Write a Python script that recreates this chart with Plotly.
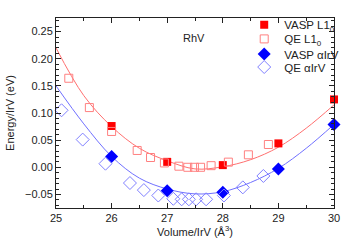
import plotly.graph_objects as go

# VASP L1_0 (filled red squares)
vasp_l10_x = [26, 27, 28, 29, 30]
vasp_l10_y = [0.076, 0.010, 0.004, 0.044, 0.125]

# QE L1_0 (open light-red squares)
qe_l10_x = [25.23, 25.60, 26.00, 26.46, 26.70, 26.95, 27.21, 27.37, 27.49, 27.60, 27.79, 28.10, 28.46, 28.82]
qe_l10_y = [0.164, 0.110, 0.066, 0.031, 0.018, 0.008, 0.002, 0.000, 0.000, 0.000, 0.003, 0.0095, 0.023, 0.042]

# VASP alpha-IrV (filled blue diamonds)
vasp_a_x = [26, 27, 28, 29, 30]
vasp_a_y = [0.020, -0.043, -0.046, -0.003, 0.079]

# QE alpha-IrV (open light-blue diamonds)
qe_a_x = [25.10, 25.48, 25.89, 26.33, 26.58, 26.84, 27.11, 27.26, 27.39, 27.52, 27.70, 28.02, 28.36, 28.73]
qe_a_y = [0.105, 0.051, 0.0066, -0.029, -0.042, -0.052, -0.058, -0.059, -0.059, -0.059, -0.059, -0.052, -0.037, -0.016]

# fitted curves
fit_x = [25.0, 25.5, 26.0, 26.5, 27.0, 27.5, 28.0, 28.5, 29.0, 29.5, 30.0]
fit_l10_y = [0.220, 0.132, 0.075, 0.035, 0.012, -0.003, 0.001, 0.014, 0.037, 0.072, 0.115]
fit_a_y = [0.150, 0.080, 0.020, -0.020, -0.040, -0.049, -0.045, -0.028, -0.002, 0.035, 0.079]

x_ticks = [25, 26, 27, 28, 29, 30]
y_ticks = [-0.05, 0.00, 0.05, 0.10, 0.15, 0.20, 0.25]

RED = "#ff0000"
LRED = "#ff8080"
BLUE = "#0000ff"
LBLUE = "#8080ff"
FONT = "Liberation Sans, DejaVu Sans, Arial"
INK = "#222222"

fig = go.Figure()
fig.add_trace(go.Scatter(x=fit_x, y=fit_l10_y, mode="lines", line=dict(color="#ff7070", width=1, shape="spline"),
                         showlegend=False, hoverinfo="skip"))
fig.add_trace(go.Scatter(x=fit_x, y=fit_a_y, mode="lines", line=dict(color="#7070ff", width=1, shape="spline"),
                         showlegend=False, hoverinfo="skip"))
fig.add_trace(go.Scatter(x=vasp_l10_x, y=vasp_l10_y, mode="markers", name="VASP L1<sub>0</sub>", cliponaxis=False,
                         legend="legend",
                         marker=dict(symbol="square", size=8, color=RED, line=dict(width=0))))
fig.add_trace(go.Scatter(x=qe_l10_x, y=qe_l10_y, mode="markers", name="QE L1<sub>0</sub>", cliponaxis=False,
                         legend="legend2",
                         marker=dict(symbol="square-open", size=8, color=LRED, line=dict(width=1))))
fig.add_trace(go.Scatter(x=vasp_a_x, y=vasp_a_y, mode="markers", name="VASP αIrV", cliponaxis=False,
                         legend="legend3",
                         marker=dict(symbol="diamond", size=10, color=BLUE, line=dict(width=0))))
fig.add_trace(go.Scatter(x=qe_a_x, y=qe_a_y, mode="markers", name="QE αIrV", cliponaxis=False,
                         legend="legend4",
                         marker=dict(symbol="diamond-open", size=10, color=LBLUE, line=dict(width=1))))

axis_common = dict(showline=True, linecolor=INK, linewidth=1, mirror="ticks", ticks="inside",
                   tickcolor=INK, ticklen=5, tickwidth=1, showgrid=False, zeroline=False, automargin=False,
                   tickfont=dict(family=FONT, size=11, color=INK))

fig.update_xaxes(range=[25, 30], tickvals=x_ticks, ticktext=[str(v) for v in x_ticks],
                 minor=dict(ticks="inside", dtick=0.5, ticklen=3, tickcolor=INK, showgrid=False),
                 title=dict(text="Volume/IrV (Å<sup>3</sup>)", font=dict(family=FONT, size=11, color=INK),
                            standoff=2),
                 **axis_common)
fig.update_yaxes(range=[-0.075, 0.275], tickvals=y_ticks, tickformat=".2f",
                 minor=dict(ticks="inside", dtick=0.01, tick0=0, ticklen=3, tickcolor=INK, showgrid=False),
                 title=dict(text="Energy/IrV (eV)", font=dict(family=FONT, size=11, color=INK),
                            standoff=8),
                 **axis_common)

fig.add_annotation(x=27.48, y=0.239, xref="x", yref="y", text="RhV", showarrow=False,
                   font=dict(family=FONT, size=11, color=INK))


def leg(ypos):
    return dict(x=0.677, y=ypos, xanchor="left", yanchor="middle", bgcolor="rgba(0,0,0,0)",
                font=dict(family=FONT, size=11.5, color=INK), itemwidth=30)


fig.update_layout(
    width=354, height=248,
    margin=dict(l=56, r=10, t=12, b=40),
    paper_bgcolor="white", plot_bgcolor="white",
    legend=leg(0.965),
    legend2=leg(0.89),
    legend3=leg(0.81),
    legend4=leg(0.742),
    showlegend=True,
)

fig.write_html("out.html", config={"displayModeBar": False},
               post_script="document.body.style.margin='0px';document.body.style.overflow='hidden';")
